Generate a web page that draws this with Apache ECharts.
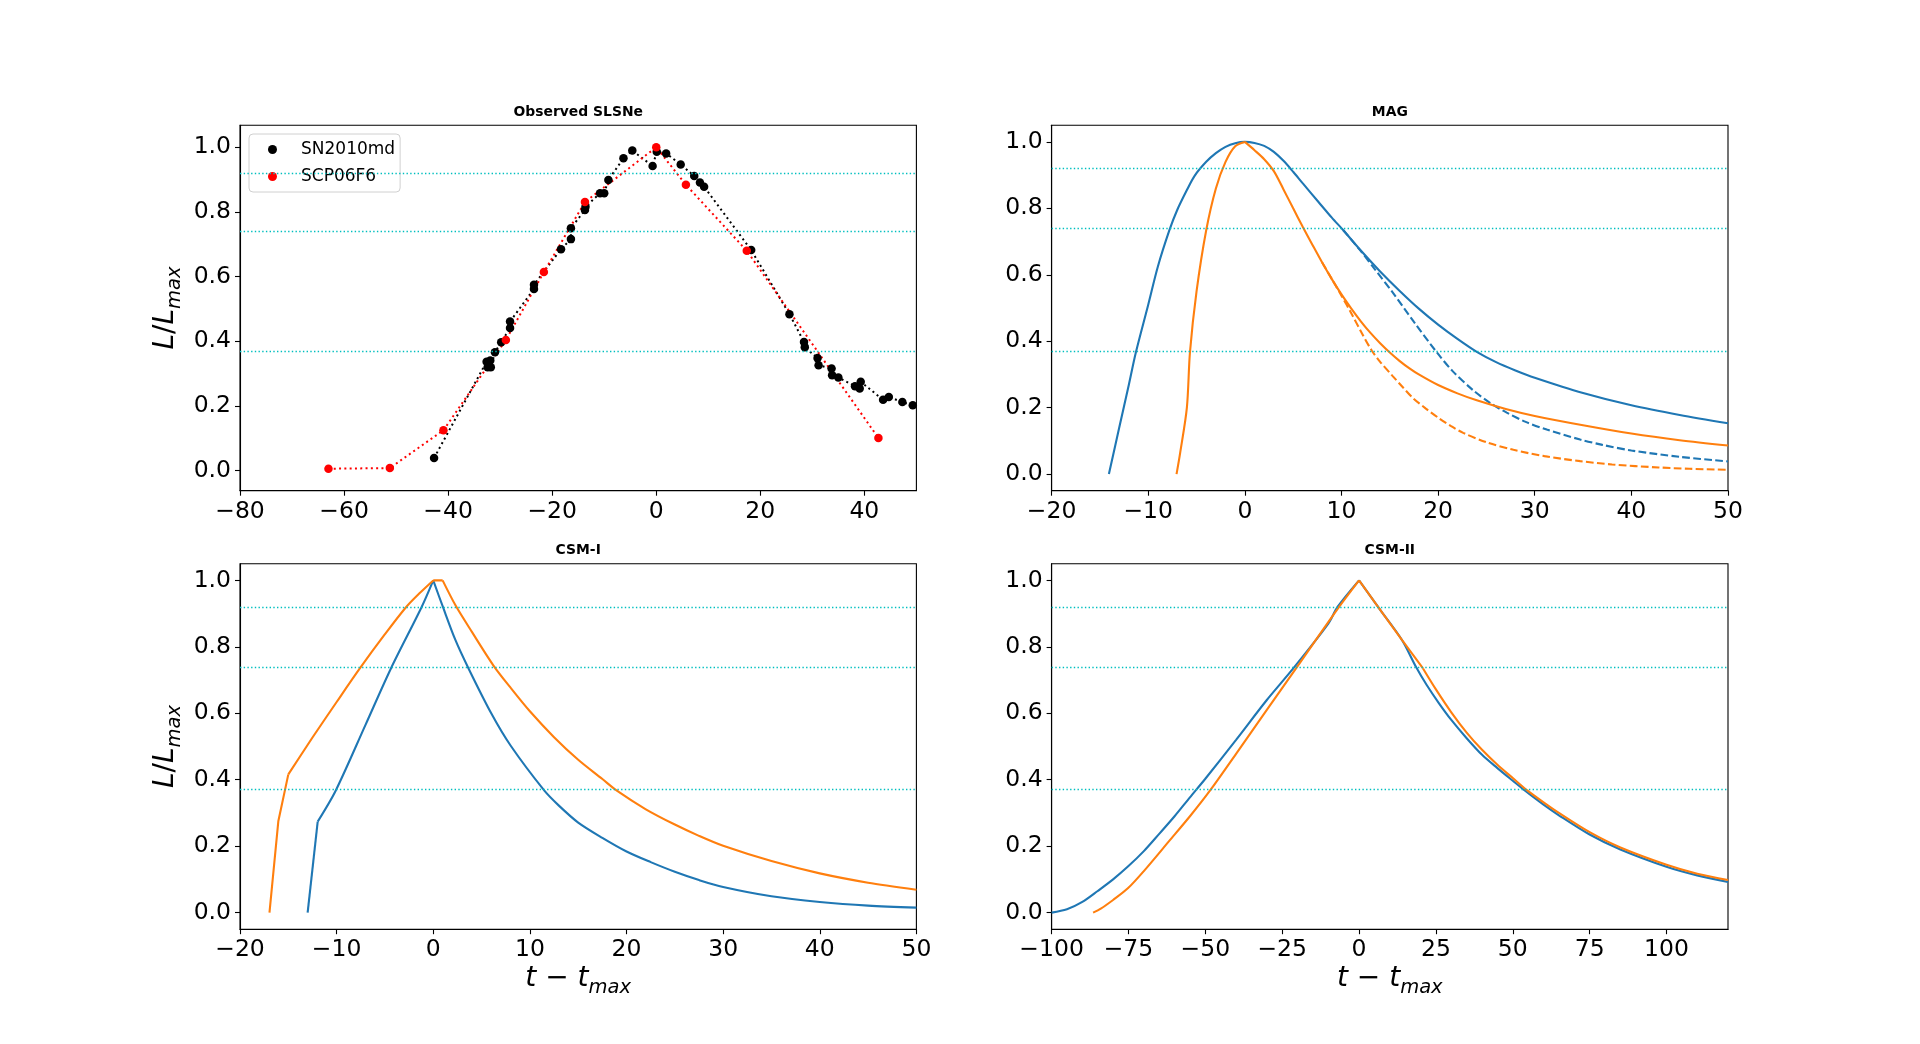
<!DOCTYPE html>
<html>
<head>
<meta charset="utf-8">
<title>SLSNe light curves</title>
<script src="https://cdn.jsdelivr.net/npm/echarts@6/dist/echarts.min.js"></script>
<style>
  html, body { margin: 0; padding: 0; background: #fff; }
  #main { width: 1920px; height: 1044px; }
</style>
</head>
<body>
<div id="main"></div>
<script>
// ---- data ----
var sn2010md = [
  [-42.7, 0.039], [-32.6, 0.337], [-32.4, 0.32], [-31.9, 0.341], [-31.8, 0.32],
  [-31.0, 0.366], [-29.8, 0.397], [-28.1, 0.441], [-28.1, 0.461], [-23.5, 0.562],
  [-23.5, 0.575], [-18.3, 0.685], [-16.4, 0.716], [-16.4, 0.75], [-13.7, 0.806],
  [-13.6, 0.816], [-10.8, 0.858], [-10.0, 0.858], [-9.2, 0.899], [-6.3, 0.966],
  [-4.6, 0.99], [-0.7, 0.942], [0.1, 0.986], [1.9, 0.981], [4.7, 0.947],
  [7.3, 0.911], [8.4, 0.891], [9.2, 0.878], [18.25, 0.682], [25.6, 0.484],
  [28.4, 0.398], [28.55, 0.382], [31.0, 0.348], [31.2, 0.326], [33.7, 0.316],
  [33.8, 0.295], [35.0, 0.288], [38.2, 0.261], [39.1, 0.254], [39.3, 0.275],
  [43.6, 0.219], [44.7, 0.228], [47.3, 0.212], [49.3, 0.202]
];
var scp06f6 = [
  [-63.0, 0.006], [-51.2, 0.008], [-40.9, 0.125], [-28.9, 0.404], [-21.6, 0.614],
  [-13.7, 0.831], [0.0, 1.0], [5.7, 0.884], [17.4, 0.68], [42.7, 0.101]
];

// MAG model curves
var magBlue = [
  [-14.07, 0], [-13, 0.14], [-12, 0.27], [-11.3, 0.364], [-10, 0.51], [-9, 0.625],
  [-7.8, 0.735], [-7, 0.795], [-6, 0.855], [-5.2, 0.898], [-4, 0.94], [-3, 0.966],
  [-2, 0.985], [-1, 0.996], [0, 1], [1, 0.997], [2, 0.988], [3, 0.97], [4, 0.943],
  [5, 0.91], [6, 0.875], [7.6, 0.82], [9, 0.772], [10.19, 0.734], [12, 0.673],
  [14, 0.61], [16, 0.552], [18, 0.498], [20, 0.45], [22, 0.407], [24, 0.368],
  [26, 0.337], [28, 0.312], [30, 0.29], [35, 0.244], [40, 0.207], [45, 0.178],
  [50, 0.153]
];
var magBlueDash = [
  [10.19, 0.734], [11.9, 0.675], [13.5, 0.615], [15.37, 0.544], [17.5, 0.458],
  [19.85, 0.367], [21.5, 0.31], [23.64, 0.252], [25.5, 0.212], [27.1, 0.185],
  [29, 0.158], [31.24, 0.134], [34.7, 0.104], [37, 0.088], [40, 0.071],
  [45, 0.052], [50, 0.038]
];
var magOrangeRise = [
  [-7.07, 0], [-6.7, 0.063], [-6, 0.2], [-5.68, 0.367], [-5, 0.55], [-4, 0.734],
  [-3, 0.86], [-2, 0.94], [-1, 0.987], [0, 1]
];
var magOrangeFall = [
  [0, 1], [1, 0.975], [2, 0.948], [3, 0.912], [4, 0.857], [5, 0.8], [6, 0.744],
  [7, 0.69], [8, 0.637], [9, 0.587], [10, 0.541], [11, 0.499], [12, 0.46],
  [13, 0.425], [14, 0.394], [15, 0.366], [16, 0.341], [17, 0.319], [18, 0.3],
  [20, 0.268], [22, 0.243], [24, 0.222], [27, 0.196], [30, 0.175], [35, 0.147],
  [40, 0.122], [45, 0.102], [50, 0.086]
];
var magOrangeDash = [
  [8, 0.637], [9.15, 0.58], [10, 0.537], [11, 0.485], [12, 0.43], [13.13, 0.372],
  [14, 0.338], [15.3, 0.295], [16.3, 0.263], [17.43, 0.228], [18.7, 0.198],
  [20.1, 0.168], [21.3, 0.145], [22.6, 0.124], [25, 0.096], [27.8, 0.073],
  [31, 0.054], [34.7, 0.039], [38, 0.029], [42.8, 0.02], [46, 0.016], [50, 0.013]
];

// CSM-I model curves
var csm1BlueFoot = [[-13, 0], [-11.96, 0.274]];
var csm1BlueRise = [
  [-11.96, 0.274], [-10.1, 0.367], [-7, 0.566], [-4.38, 0.735], [-1.2, 0.92], [0, 1]
];
var csm1BlueFall = [
  [0, 1], [1, 0.92], [2.3, 0.82], [3.65, 0.735], [6, 0.6], [8, 0.503], [11.5, 0.367],
  [13, 0.322], [15, 0.271], [17.5, 0.225], [20, 0.184], [22.5, 0.152], [25, 0.123],
  [27.5, 0.098], [30, 0.077], [35, 0.049], [40, 0.032], [45, 0.021], [50, 0.015]
];
var csm1OrangeFoot = [[-16.95, 0], [-16.03, 0.276], [-15, 0.416]];
var csm1OrangeRise = [
  [-15, 0.416], [-12.5, 0.527], [-10, 0.634], [-7.6, 0.735], [-5, 0.838],
  [-2.8, 0.92], [-1.4, 0.962], [0, 1]
];
var csm1OrangeTop = [[0, 1], [0.97, 1]];
var csm1OrangeFall = [
  [0.97, 1], [2.3, 0.925], [4, 0.845], [6.25, 0.743], [8, 0.677], [10, 0.606],
  [12.5, 0.528], [15, 0.46], [17.5, 0.402], [19, 0.367], [22, 0.311], [25, 0.265],
  [27.5, 0.231], [30, 0.201], [35, 0.155], [40, 0.118], [45, 0.09], [50, 0.069]
];

// CSM-II model curves
var csm2BlueRise = [
  [-100, 0], [-95, 0.01], [-90, 0.032], [-85, 0.065], [-80, 0.1], [-75, 0.14],
  [-70, 0.185], [-65, 0.237], [-60, 0.29], [-55, 0.347], [-50, 0.403], [-40, 0.52],
  [-30, 0.64], [-21.4, 0.735], [-10, 0.87], [-7, 0.92], [0, 1]
];
var csm2BlueFall = [
  [0, 1], [7, 0.91], [14, 0.82], [18.5, 0.74], [22, 0.685], [26, 0.63], [30, 0.58],
  [35, 0.525], [40, 0.475], [45, 0.435], [50, 0.397], [54, 0.367], [60, 0.325],
  [65, 0.293], [75, 0.235], [85, 0.19], [100, 0.138], [110, 0.112], [120, 0.092]
];
var csm2OrangeRise = [
  [-86.5, 0], [-84, 0.012], [-80, 0.038], [-75.2, 0.073], [-70, 0.125],
  [-61.8, 0.215], [-55, 0.29], [-48.5, 0.367], [-40, 0.478], [-30, 0.61],
  [-20.5, 0.735], [-6.5, 0.92], [0, 1]
];
var csm2OrangeFallEarly = [[0, 1], [7, 0.91], [14, 0.82], [20.8, 0.735]];
var csm2OrangeFallLate = [
  [20.8, 0.735], [25, 0.672], [30, 0.603], [35, 0.542], [40, 0.49], [45, 0.445],
  [50, 0.405], [54.8, 0.367], [60, 0.332], [65, 0.3], [75, 0.242], [85, 0.196],
  [100, 0.144], [110, 0.117], [120, 0.098]
];

// reference levels 2.5/e, 2/e, 1/e
var levels = [0.9197, 0.7358, 0.3679];

var yTicks = [0, 0.2, 0.4, 0.6, 0.8, 1.0];
var xTicksObs = [-80, -60, -40, -20, 0, 20, 40];
var xTicksShort = [-20, -10, 0, 10, 20, 30, 40, 50];
var xTicksCsm2 = [-100, -75, -50, -25, 0, 25, 50, 75, 100];
var titles = ['Observed SLSNe', 'MAG', 'CSM-I', 'CSM-II'];

// ---- layout (matplotlib-like subplot boxes) ----
var FONT = 'DejaVu Sans';
var gW = 676.4, gH = 365.4;
var lefts = [240, 1051.6, 240, 1051.6];
var tops = [125.3, 125.3, 563.8, 563.8];
var xRanges = [[-80, 50], [-20, 50], [-20, 50], [-100, 120]];
var yRanges = [[-0.062, 1.068], [-0.05, 1.05], [-0.05, 1.05], [-0.05, 1.05]];
var xTickSets = [xTicksObs, xTicksShort, xTicksShort, xTicksCsm2];

var blue = '#1f77b4', orange = '#ff7f0e';

function minusFmt(dec) {
  return function (v) {
    var s = Math.abs(v).toFixed(dec);
    return (v < 0 ? '\u2212' : '') + s;
  };
}

var mathRich = {
  it: { fontFamily: FONT, fontStyle: 'italic', fontSize: 28, color: '#000', verticalAlign: 'bottom', padding: [0, 0, 5, 0] },
  op: { fontFamily: FONT, fontSize: 28, color: '#000', verticalAlign: 'bottom', padding: [0, 0, 5, 0] },
  sub: { fontFamily: FONT, fontStyle: 'italic', fontSize: 19.5, color: '#000', verticalAlign: 'bottom' }
};

var grids = [], xAxes = [], yAxes = [], titleList = [];
for (var i = 0; i < 4; i++) {
  grids.push({
    left: lefts[i], top: tops[i], width: gW, height: gH,
    show: true, borderColor: '#000', borderWidth: 1.1, backgroundColor: '#fff'
  });
  xAxes.push({
    type: 'value', gridIndex: i, min: xRanges[i][0], max: xRanges[i][1],
    axisLine: { show: true, onZero: false, lineStyle: { color: '#000', width: 1.1 } },
    axisTick: { show: true, length: 5, lineStyle: { color: '#000', width: 1.1 }, customValues: xTickSets[i] },
    axisLabel: { fontFamily: FONT, fontSize: 23.5, color: '#000', margin: 9, customValues: xTickSets[i], formatter: minusFmt(0) },
    splitLine: { show: false },
    name: i >= 2 ? '{it|t}{op| \u2212 }{it|t}{sub|max}' : '',
    nameLocation: 'middle', nameGap: 36,
    nameTextStyle: { rich: mathRich }
  });
  yAxes.push({
    type: 'value', gridIndex: i, min: yRanges[i][0], max: yRanges[i][1],
    axisLine: { show: true, onZero: false, lineStyle: { color: '#000', width: 1.1 } },
    axisTick: { show: true, length: 5, lineStyle: { color: '#000', width: 1.1 }, customValues: yTicks },
    axisLabel: { fontFamily: FONT, fontSize: 23.5, color: '#000', margin: 9, padding: [3, 0, 0, 0], customValues: yTicks, formatter: minusFmt(1) },
    splitLine: { show: false },
    name: i % 2 === 0 ? '{it|L}{op|/}{it|L}{sub|max}' : '',
    nameLocation: 'middle', nameGap: 55, nameRotate: 90,
    nameTextStyle: { rich: mathRich }
  });
  titleList.push({
    text: titles[i], left: lefts[i] + gW / 2, top: tops[i] - 20, textAlign: 'center', padding: 0,
    textStyle: { fontFamily: FONT, fontWeight: 'bold', fontSize: 13.9, color: '#000' }
  });
}

function levelSeries(i) {
  return {
    type: 'line', xAxisIndex: i, yAxisIndex: i, data: [], z: 1, silent: true,
    markLine: {
      symbol: 'none', silent: true, animation: false, label: { show: false },
      lineStyle: { color: '#00bfbf', width: 1.3, type: [1.4, 2.3] },
      data: levels.map(function (v) { return { yAxis: v }; })
    }
  };
}

function curve(data, color, i, dashed, smooth) {
  return {
    type: 'line', xAxisIndex: i, yAxisIndex: i, data: data,
    showSymbol: false, symbol: 'none', z: 3, smooth: smooth ? 0.3 : false,
    lineStyle: { color: color, width: 2.1, type: dashed ? [7.7, 3.3] : 'solid' },
    itemStyle: { color: color }
  };
}

function observed(name, data, color) {
  return {
    type: 'line', name: name, xAxisIndex: 0, yAxisIndex: 0, data: data,
    symbol: 'circle', symbolSize: 8.5, showSymbol: true, z: 3,
    lineStyle: { color: color, width: 2, type: [2, 3.3] },
    itemStyle: { color: color, borderWidth: 0 }
  };
}

var series = [
  levelSeries(0), levelSeries(1), levelSeries(2), levelSeries(3),
  observed('SN2010md', sn2010md, '#000'),
  observed('SCP06F6', scp06f6, '#ff0000'),
  curve(magBlueDash, blue, 1, true, true),
  curve(magOrangeDash, orange, 1, true, true),
  curve(magBlue, blue, 1, false, true),
  curve(magOrangeRise, orange, 1, false, true),
  curve(magOrangeFall, orange, 1, false, true),
  curve(csm1BlueFoot, blue, 2, false, false),
  curve(csm1BlueRise, blue, 2, false, true),
  curve(csm1BlueFall, blue, 2, false, true),
  curve(csm1OrangeFoot, orange, 2, false, false),
  curve(csm1OrangeRise, orange, 2, false, true),
  curve(csm1OrangeTop, orange, 2, false, false),
  curve(csm1OrangeFall, orange, 2, false, true),
  curve(csm2BlueRise, blue, 3, false, true),
  curve(csm2BlueFall, blue, 3, false, true),
  curve(csm2OrangeRise, orange, 3, false, true),
  curve(csm2OrangeFallEarly, orange, 3, false, false),
  curve(csm2OrangeFallLate, orange, 3, false, true)
];

var chart = echarts.init(document.getElementById('main'));
chart.setOption({
  animation: false,
  backgroundColor: '#fff',
  title: titleList,
  legend: {
    data: ['SN2010md', 'SCP06F6'],
    orient: 'vertical', left: 249, top: 134,
    icon: 'circle', itemWidth: 47, itemHeight: 9, itemGap: 10,
    padding: [7, 5, 7, 19],
    borderColor: '#d0d0d0', borderWidth: 1, borderRadius: 4,
    backgroundColor: 'rgba(255,255,255,0.8)',
    selectedMode: false,
    textStyle: { fontFamily: FONT, fontSize: 17, color: '#000' }
  },
  grid: grids,
  xAxis: xAxes,
  yAxis: yAxes,
  series: series
});
window.addEventListener('resize', function () { chart.resize(); });
</script>
</body>
</html>
